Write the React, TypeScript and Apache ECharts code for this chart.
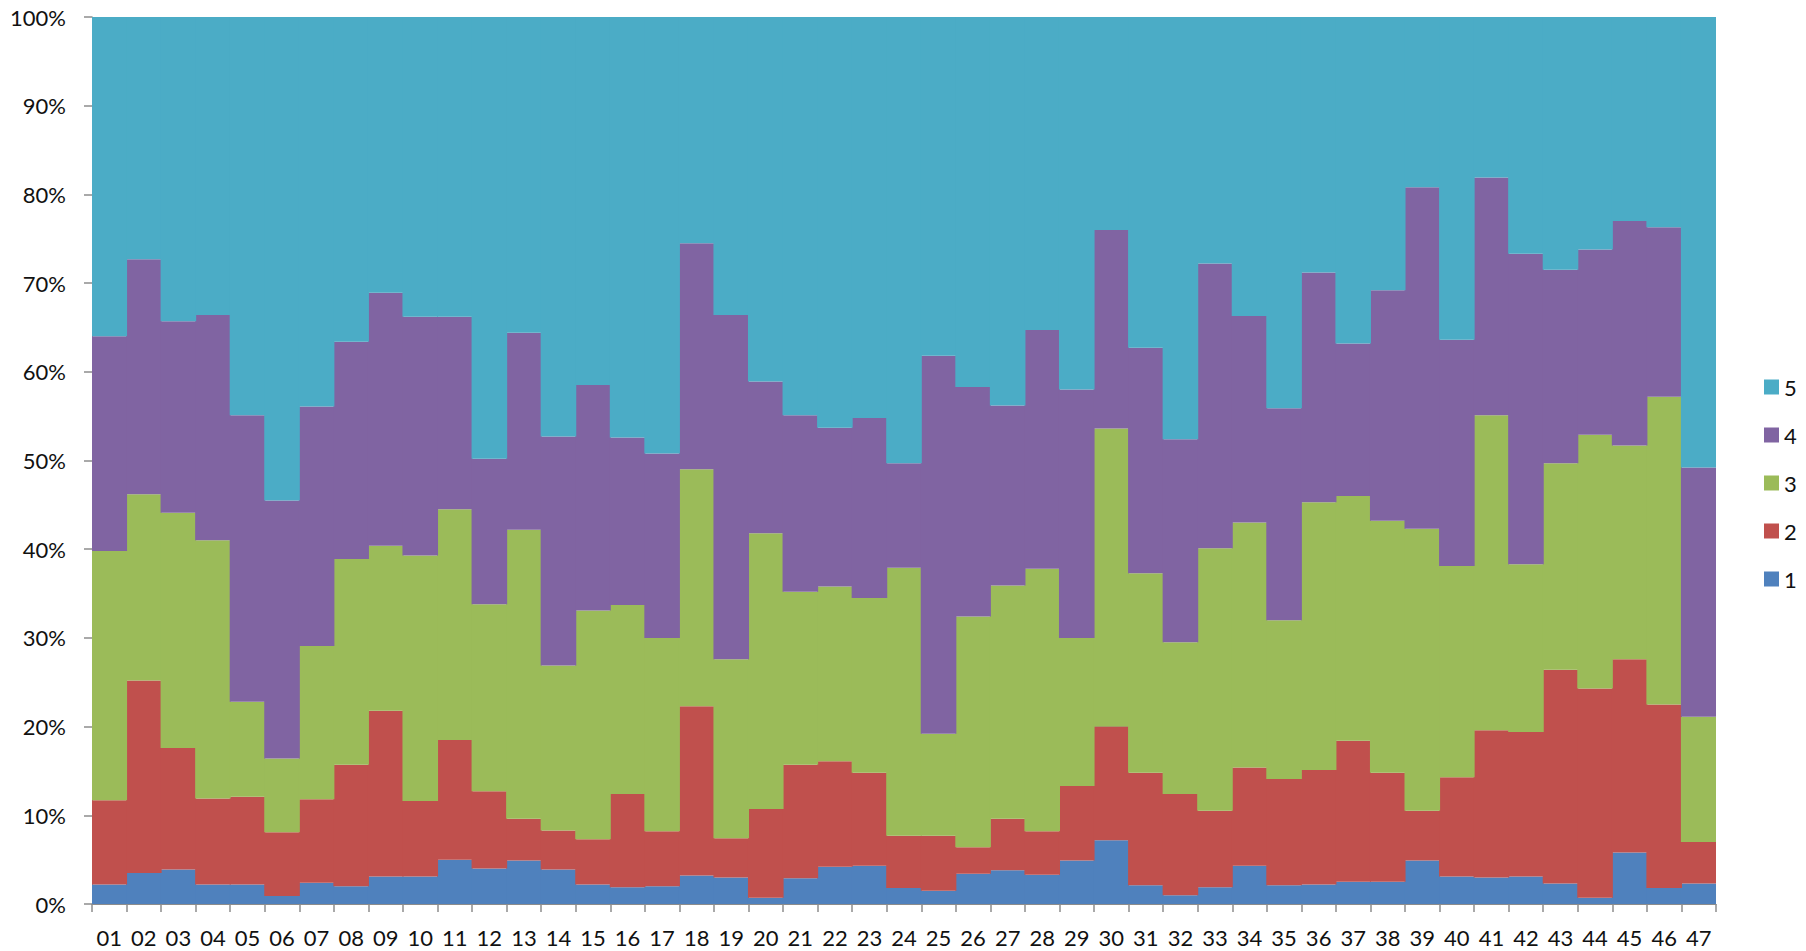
import React, { useEffect, useRef } from "react";
import * as echarts from "echarts";

const categories = [
  "01","02","03","04","05","06","07","08","09","10",
  "11","12","13","14","15","16","17","18","19","20",
  "21","22","23","24","25","26","27","28","29","30",
  "31","32","33","34","35","36","37","38","39","40",
  "41","42","43","44","45","46","47",
];

// segment shares (%) per category
const s1 = [2.2,3.5,3.9,2.2,2.2,0.9,2.4,2.0,3.1,3.1,5.0,4.0,4.9,3.9,2.2,1.9,2.0,3.2,3.0,0.7,2.9,4.2,4.3,1.8,1.5,3.4,3.8,3.3,4.9,7.2,2.1,1.0,1.9,4.3,2.1,2.2,2.5,2.5,4.9,3.1,3.0,3.1,2.3,0.7,5.8,1.8,2.3];
const s2 = [9.5,21.7,13.7,9.7,9.9,7.2,9.4,13.7,18.7,8.5,13.5,8.7,4.7,4.4,5.1,10.5,6.2,19.1,4.4,10.0,12.8,11.9,10.5,5.9,6.2,3.0,5.8,4.9,8.4,12.8,12.7,11.4,8.6,11.1,12.0,12.9,15.9,12.3,5.6,11.2,16.6,16.3,24.1,23.6,21.8,20.7,4.7];
const s3 = [28.1,21.0,26.5,29.1,10.7,8.3,17.3,23.2,18.6,27.7,26.0,21.1,32.6,18.6,25.8,21.3,21.8,26.7,20.2,31.1,19.5,19.7,19.7,30.2,11.5,26.0,26.3,29.6,16.7,33.6,22.5,17.1,29.6,27.6,17.9,30.2,27.6,28.4,31.8,23.8,35.5,18.9,23.3,28.6,24.1,34.7,14.1];
const s4 = [24.2,26.5,21.6,25.4,32.3,29.1,27.0,24.5,28.5,26.9,21.7,16.4,22.2,25.8,25.4,18.9,20.8,25.5,38.8,17.1,19.9,17.9,20.3,11.8,42.6,25.9,20.3,26.9,28.0,22.4,25.4,22.9,32.1,23.3,23.9,25.9,17.2,26.0,38.5,25.5,26.8,35.0,21.8,20.9,25.3,19.1,28.1];
const s5 = [36.0,27.3,34.3,33.6,44.9,54.5,43.9,36.6,31.1,33.8,33.8,49.8,35.6,47.3,41.5,47.4,49.2,25.5,33.6,41.1,44.9,46.3,45.2,50.3,38.2,41.7,43.8,35.3,42.0,24.0,37.3,47.6,27.8,33.7,44.1,28.8,36.8,30.8,19.2,36.4,18.1,26.7,28.5,26.2,23.0,23.7,50.8];

const seriesNames = ["1", "2", "3", "4", "5"];
const seriesData = [s1, s2, s3, s4, s5];
const colors = ["#4F81BD", "#C0504D", "#9BBB59", "#8064A2", "#4BACC6"];
const legendOrder = ["5", "4", "3", "2", "1"];

const FONT = "Lato, 'Liberation Sans', sans-serif";

export default function App() {
  const ref = useRef<HTMLDivElement>(null);
  useEffect(() => {
    if (!ref.current) return;
    const chart = echarts.init(ref.current, undefined, { renderer: "svg" });
    chart.setOption({
      animation: false,
      backgroundColor: "#ffffff",
      color: colors,
      textStyle: { fontFamily: FONT },
      grid: { left: 92, right: 90, top: 17, bottom: 47, containLabel: false },
      legend: {
        orient: "vertical",
        left: 1759,
        top: 371,
        data: legendOrder,
        itemWidth: 15,
        itemHeight: 15,
        itemGap: 26,
        icon: "rect",
        itemStyle: { borderWidth: 0 },
        textStyle: { fontFamily: FONT, fontSize: 22, color: "#111", lineHeight: 22 },
      },
      xAxis: {
        type: "category",
        data: categories,
        boundaryGap: true,
        axisLine: { lineStyle: { color: "#8c8c8c", width: 1 } },
        axisTick: { show: true, length: 8, lineStyle: { color: "#8c8c8c", width: 1.5 } },
        axisLabel: { interval: 0, fontFamily: FONT, fontSize: 22, color: "#111", margin: 22 },
        splitLine: { show: false },
      },
      yAxis: {
        type: "value",
        min: 0,
        max: 100,
        interval: 10,
        axisLine: { show: true, lineStyle: { color: "#8c8c8c", width: 1 } },
        axisTick: { show: true, length: 8, lineStyle: { color: "#8c8c8c", width: 1.5 } },
        axisLabel: { formatter: "{value}%", fontFamily: FONT, fontSize: 22, color: "#111", margin: 26 },
        splitLine: { show: true, lineStyle: { color: "#9a9a9a", width: 1 } },
      },
      series: seriesNames.map((name, i) => ({
        name,
        type: "bar",
        stack: "total",
        barWidth: "103%",
        barGap: "0%",
        data: seriesData[i],
        itemStyle: { color: colors[i], borderWidth: 0 },
      })),
    });
    return () => chart.dispose();
  }, []);
  return (
    <div
      ref={ref}
      style={{ position: "fixed", left: 0, top: 0, width: 1806, height: 951, background: "#fff" }}
    />
  );
}
